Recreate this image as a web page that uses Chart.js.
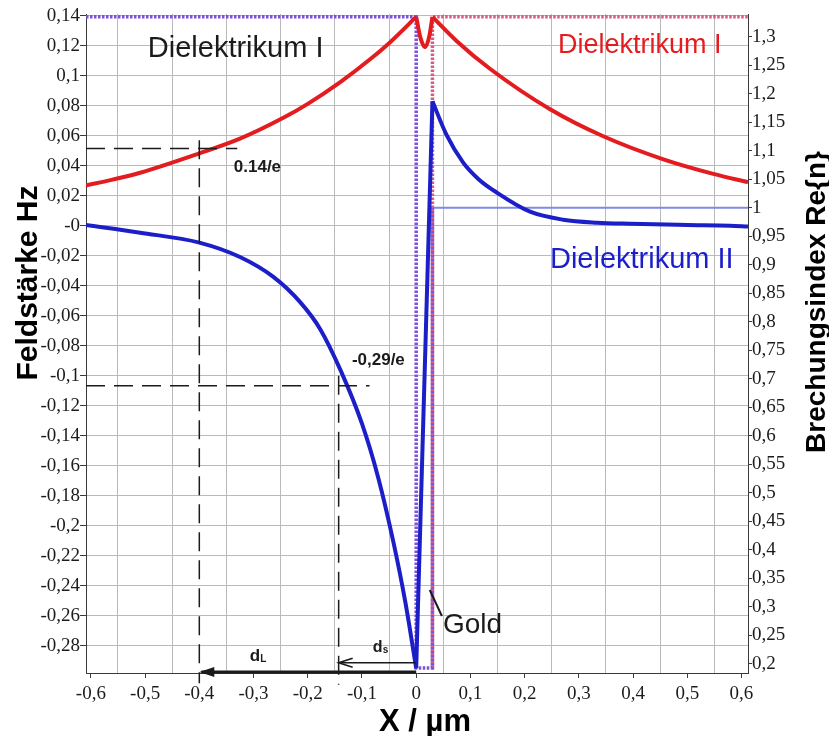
<!DOCTYPE html>
<html>
<head>
<meta charset="utf-8">
<title>Feldstärke Hz / Brechungsindex</title>
<script src="https://cdn.jsdelivr.net/npm/chart.js@4.4.1/dist/chart.umd.min.js"></script>
<style>
  html, body { margin: 0; padding: 0; background: #fff; }
  canvas { display: block; }
</style>
</head>
<body>
<canvas id="chart" width="829" height="736"></canvas>
<script>
// ===== Hz-Feldverlauf und Re{n} an einem Goldfilm (Chart.js) =====

// --- x-Achse (µm) ---
const X_MIN = -0.609;
const X_MAX = 0.612;
const xTickValues = [-0.6, -0.5, -0.4, -0.3, -0.2, -0.1, 0, 0.1, 0.2, 0.3, 0.4, 0.5, 0.6];
const xTickLabels = ['-0,6', '-0,5', '-0,4', '-0,3', '-0,2', '-0,1', '0', '0,1', '0,2', '0,3', '0,4', '0,5', '0,6'];
const xGridValues = [-0.55, -0.45, -0.35, -0.25, -0.15, -0.05, 0.05, 0.15, 0.25, 0.35, 0.45, 0.55];

// --- linke Achse: Feldstärke Hz ---
const HZ_MIN = -0.2982;
const HZ_MAX = 0.1411;
const hzTickValues = [0.14, 0.12, 0.1, 0.08, 0.06, 0.04, 0.02, 0, -0.02, -0.04, -0.06, -0.08, -0.1,
  -0.12, -0.14, -0.16, -0.18, -0.2, -0.22, -0.24, -0.26, -0.28];
const hzTickLabels = ['0,14', '0,12', '0,1', '0,08', '0,06', '0,04', '0,02', '-0', '-0,02', '-0,04', '-0,06',
  '-0,08', '-0,1', '-0,12', '-0,14', '-0,16', '-0,18', '-0,2', '-0,22', '-0,24', '-0,26', '-0,28'];

// --- rechte Achse: Brechungsindex Re{n} ---
const N_MIN = 0.1842;
const N_MAX = 1.3398;
const nTickValues = [1.3, 1.25, 1.2, 1.15, 1.1, 1.05, 1, 0.95, 0.9, 0.85, 0.8, 0.75, 0.7, 0.65, 0.6,
  0.55, 0.5, 0.45, 0.4, 0.35, 0.3, 0.25, 0.2];
const nTickLabels = ['1,3', '1,25', '1,2', '1,15', '1,1', '1,05', '1', '0,95', '0,9', '0,85', '0,8', '0,75',
  '0,7', '0,65', '0,6', '0,55', '0,5', '0,45', '0,4', '0,35', '0,3', '0,25', '0,2'];

// --- Hz, Dielektrikum I auf beiden Seiten (rot) ---
const redLeftX = [-0.609, -0.56, -0.509, -0.4, -0.325, -0.245, -0.2, -0.14, -0.085, -0.049, 0];
const redLeftHz = [0.0268, 0.0307, 0.0353, 0.0482, 0.058, 0.0719, 0.0812, 0.0957, 0.1109, 0.122, 0.1392];
const redGoldX = [0, 0.008, 0.0166, 0.024, 0.03];
const redGoldHz = [0.1392, 0.125, 0.119, 0.126, 0.1392];
const redRightX = [0.03, 0.075, 0.136, 0.247, 0.345, 0.456, 0.548, 0.612];
const redRightHz = [0.1392, 0.123, 0.1046, 0.0776, 0.0596, 0.0442, 0.0345, 0.029];

// --- Hz, Dielektrikum I | Gold | Dielektrikum II (blau) ---
const blueLeftX = [-0.609, -0.509, -0.4, -0.325, -0.264, -0.214, -0.177, -0.14, -0.1, -0.07, -0.042, -0.02, 0];
const blueLeftHz = [0.0005, -0.0047, -0.0113, -0.0209, -0.034, -0.051, -0.069, -0.096, -0.132, -0.168, -0.211, -0.251, -0.295];
const blueGoldX = [0, 0.03];
const blueGoldHz = [-0.295, 0.0829];
const blueRightX = [0.03, 0.056, 0.0867, 0.115, 0.149, 0.21, 0.271, 0.334, 0.395, 0.5, 0.579, 0.612];
const blueRightHz = [0.0829, 0.0605, 0.042, 0.031, 0.022, 0.0093, 0.004, 0.002, 0.0013, 0.0005, 0, -0.0005];

// --- Brechungsindexprofile ---
const profileIIX = [-0.609, 0, 0, 0.03, 0.03];       // Dielektrikum I | Gold | Dielektrikum II
const profileIIN = [1.335, 1.335, 0.193, 0.193, 1.0];
const profileIX = [0.03, 0.03, 0.612];               // Dielektrikum I rechts
const profileIN = [0.193, 1.335, 1.335];
const airX = [0.03, 0.612];
const airN = [1.0, 1.0];

// --- 1/e-Hilfslinien ---
const HZ_TOP_E = 0.14 / Math.E;    // "0.14/e"
const HZ_BOTTOM_E = -0.29 / Math.E; // "-0,29/e"
const guideTopX = [-0.609, -0.33];
const guideTopHz = [HZ_TOP_E, HZ_TOP_E];
const guideLX = [-0.4, -0.4];
const guideLHz = [0.057, -0.305];
const guideBottomX = [-0.609, -0.086];
const guideBottomHz = [HZ_BOTTOM_E, HZ_BOTTOM_E];
const guideSX = [-0.143, -0.143];
const guideSHz = [-0.1, -0.306];

// Abklinglängen dL, ds (Pfeile von x = 0 nach links)
const arrowLX = [0, -0.4];
const arrowLHz = -0.2975;
const arrowSX = [0, -0.143];
const arrowSHz = -0.2913;

const RED = '#e31c1f';
const BLUE = '#1c1fc8';
const PURPLE = '#7c52d8';
const PINK = '#d85c8a';
const LIGHT_BLUE = '#7f8ae4';
const GRID = '#bababa';
const AXIS = '#3a3a3a';
const INK = '#1b1b1b';
const SANS = "'Liberation Sans', Arial, sans-serif";
const SERIF = "'Liberation Serif', 'Times New Roman', serif";

const pts = (xs, ys) => xs.map((x, i) => ({ x, y: ys[i] }));
const near = (list, v) => list.findIndex(t => Math.abs(t - v) < 1e-9);
const labelFor = (values, labels) => v => {
  const i = near(values, v);
  return i < 0 ? '' : labels[i];
};

function line(xs, ys, color, width, extra = {}) {
  return Object.assign({
    data: pts(xs, ys),
    borderColor: color,
    backgroundColor: color,
    borderWidth: width,
    showLine: true,
    pointRadius: 0,
    tension: 0,
    yAxisID: 'y',
    order: 2,
  }, extra);
}

const smooth = { cubicInterpolationMode: 'monotone' };
const dotted = { borderDash: [2.5, 1.5], yAxisID: 'y1', order: 4 };
const dashed = { borderDash: [19, 9], order: 0, clip: false };

const datasets = [
  line(profileIX, profileIN, PINK, 3.5, dotted),
  line(profileIIX, profileIIN, PURPLE, 3.5, Object.assign({}, dotted, { order: 3 })),
  line(airX, airN, LIGHT_BLUE, 2, { yAxisID: 'y1', order: 3 }),
  line(redLeftX, redLeftHz, RED, 4, smooth),
  line(redGoldX, redGoldHz, RED, 4, smooth),
  line(redRightX, redRightHz, RED, 4, smooth),
  line(blueLeftX, blueLeftHz, BLUE, 4, smooth),
  line(blueGoldX, blueGoldHz, BLUE, 4),
  line(blueRightX, blueRightHz, BLUE, 4, smooth),
  line(guideTopX, guideTopHz, INK, 1.5, dashed),
  line(guideLX, guideLHz, INK, 1.5, dashed),
  line(guideBottomX, guideBottomHz, INK, 1.5, dashed),
  line(guideSX, guideSHz, INK, 1.5, dashed),
];

// Pfeile, Beschriftungen und Achsentitel
const annotations = {
  id: 'annotations',
  beforeDraw(chart) {
    const { ctx, width, height } = chart;
    ctx.save();
    ctx.fillStyle = '#fff';
    ctx.fillRect(0, 0, width, height);
    ctx.restore();
  },
  afterDatasetsDraw(chart) {
    const { ctx } = chart;
    const sx = chart.scales.x;
    const sy = chart.scales.y;
    const px = v => sx.getPixelForValue(v);
    const py = v => sy.getPixelForValue(v);

    function arrow(xs, hz, width, head, filled) {
      const x0 = px(xs[0]), x1 = px(xs[1]), yy = py(hz);
      ctx.save();
      ctx.strokeStyle = INK;
      ctx.fillStyle = INK;
      ctx.lineWidth = width;
      ctx.beginPath();
      ctx.moveTo(x0, yy);
      ctx.lineTo(x1 + 2, yy);
      ctx.stroke();
      ctx.beginPath();
      ctx.moveTo(x1 + head[0], yy - head[1]);
      ctx.lineTo(x1, yy);
      ctx.lineTo(x1 + head[0], yy + head[1]);
      if (filled) {
        ctx.closePath();
        ctx.fill();
      } else {
        ctx.lineWidth = 1.6;
        ctx.stroke();
      }
      ctx.restore();
    }
    arrow(arrowLX, arrowLHz, 3, [15, 5], true);
    arrow(arrowSX, arrowSHz, 1.5, [14, 4.5], false);

    function text(str, x, hz, font, color, align = 'left') {
      ctx.save();
      ctx.font = font;
      ctx.fillStyle = color;
      ctx.textAlign = align;
      ctx.textBaseline = 'alphabetic';
      ctx.fillText(str, px(x), py(hz));
      ctx.restore();
    }
    function subscripted(main, sub, x, hz, size) {
      ctx.save();
      ctx.fillStyle = INK;
      ctx.textBaseline = 'alphabetic';
      ctx.font = `bold ${size}px ${SANS}`;
      const w = ctx.measureText(main).width;
      ctx.fillText(main, px(x), py(hz));
      ctx.font = `bold ${Math.round(size * 0.6)}px ${SANS}`;
      ctx.fillText(sub, px(x) + w, py(hz) + 1);
      ctx.restore();
    }

    text('Dielektrikum I', -0.495, 0.1125, `29px ${SANS}`, INK);
    text('Dielektrikum I', 0.2614, 0.1151, `27px ${SANS}`, RED);
    text('Dielektrikum II', 0.2467, -0.0282, `29px ${SANS}`, BLUE);
    text('0.14/e', -0.3364, 0.0358, `bold 17px ${SANS}`, INK);
    text('-0,29/e', -0.1186, -0.0929, `bold 17px ${SANS}`, INK);
    text('Gold', 0.0493, -0.2715, `28px ${SANS}`, INK);
    subscripted('d', 'L', -0.3068, -0.2903, 17);
    subscripted('d', 's', -0.0799, -0.2842, 16);

    // Hinweisstrich zum Goldfilm
    ctx.save();
    ctx.strokeStyle = INK;
    ctx.lineWidth = 2;
    ctx.beginPath();
    ctx.moveTo(px(0.025), py(-0.2429));
    ctx.lineTo(px(0.0474), py(-0.2602));
    ctx.stroke();
    ctx.restore();
  },
  afterDraw(chart) {
    const { ctx } = chart;
    ctx.save();
    ctx.fillStyle = '#000';
    ctx.textAlign = 'center';
    ctx.textBaseline = 'alphabetic';

    ctx.font = `bold 31px ${SANS}`;
    ctx.fillText('X / µm', 425, 731);

    ctx.font = `bold 30px ${SANS}`;
    ctx.translate(37, 283);
    ctx.rotate(-Math.PI / 2);
    ctx.fillText('Feldstärke Hz', 0, 0);
    ctx.restore();

    ctx.save();
    ctx.fillStyle = '#000';
    ctx.textAlign = 'center';
    ctx.font = `bold 28px ${SANS}`;
    ctx.translate(825, 302);
    ctx.rotate(-Math.PI / 2);
    ctx.fillText('Brechungsindex Re{n}', 0, 0);
    ctx.restore();
  },
};

const tickFont = { family: SERIF, size: 19 };

new Chart(document.getElementById('chart'), {
  type: 'scatter',
  data: { datasets },
  options: {
    responsive: false,
    animation: false,
    layout: { padding: { top: 14, left: 0, right: 0, bottom: 0 } },
    plugins: { legend: { display: false }, tooltip: { enabled: false } },
    scales: {
      x: {
        type: 'linear',
        min: X_MIN,
        max: X_MAX,
        afterBuildTicks: s => {
          s.ticks = xTickValues.concat(xGridValues).sort((a, b) => a - b).map(value => ({ value }));
        },
        afterFit: s => { s.height = 63; },
        grid: {
          color: c => (c.tick && near(xGridValues, c.tick.value) >= 0 ? GRID : 'transparent'),
          tickColor: c => (c.tick && near(xTickValues, c.tick.value) >= 0 ? AXIS : 'transparent'),
          tickLength: 5,
        },
        border: { color: AXIS, width: 1 },
        ticks: {
          autoSkip: false,
          maxRotation: 0,
          padding: 5,
          color: INK,
          font: tickFont,
          callback: labelFor(xTickValues, xTickLabels),
        },
      },
      y: {
        type: 'linear',
        position: 'left',
        min: HZ_MIN,
        max: HZ_MAX,
        afterBuildTicks: s => { s.ticks = hzTickValues.map(value => ({ value })); },
        afterFit: s => { s.width = 86; },
        grid: { color: GRID, tickColor: AXIS, tickLength: 6 },
        border: { color: AXIS, width: 1 },
        ticks: {
          autoSkip: false,
          padding: 0,
          color: INK,
          font: tickFont,
          callback: labelFor(hzTickValues, hzTickLabels),
        },
      },
      y1: {
        type: 'linear',
        position: 'right',
        min: N_MIN,
        max: N_MAX,
        afterBuildTicks: s => { s.ticks = nTickValues.map(value => ({ value })); },
        afterFit: s => { s.width = 81; },
        grid: { drawOnChartArea: false, tickColor: AXIS, tickLength: 4 },
        border: { color: AXIS, width: 1 },
        ticks: {
          autoSkip: false,
          padding: 0,
          color: INK,
          font: tickFont,
          callback: labelFor(nTickValues, nTickLabels),
        },
      },
    },
  },
  plugins: [annotations],
});
</script>
</body>
</html>
